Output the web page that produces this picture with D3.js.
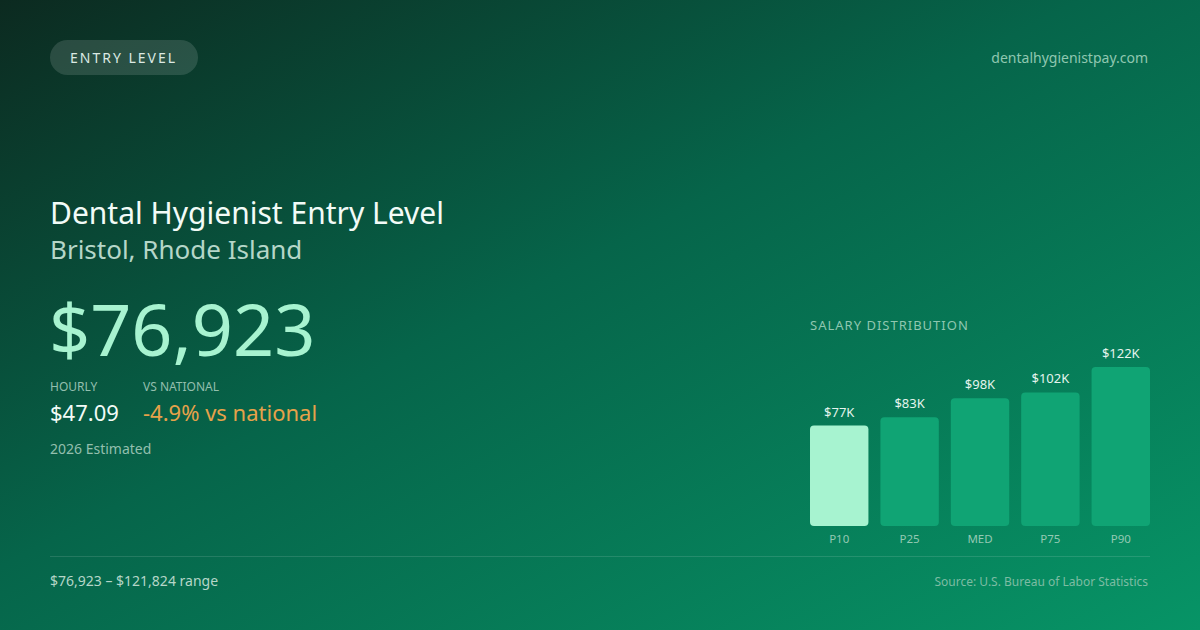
<!DOCTYPE html>
<html>
<head>
<meta charset="utf-8">
<script src="https://cdn.jsdelivr.net/npm/d3@7"></script>
<style>
  html, body { margin: 0; padding: 0; background: #0b2a20; }
  svg { display: block; font-family: "Noto Sans", "Open Sans", sans-serif; }
</style>
</head>
<body>
<script>
// salary percentiles
const percentiles = ["P10", "P25", "MED", "P75", "P90"];
const salaries = [76923, 83400, 97900, 102300, 121824];
const salaryLabels = ["$77K", "$83K", "$98K", "$102K", "$122K"];

const W = 1200, H = 630;

const svg = d3.select("body").append("svg")
    .attr("width", W)
    .attr("height", H);

// background gradient, dark top-left to green bottom-right
const defs = svg.append("defs");
const bg = defs.append("linearGradient")
    .attr("id", "bg")
    .attr("x1", "0%").attr("y1", "0%")
    .attr("x2", "100%").attr("y2", "100%");
bg.append("stop").attr("offset", "0%").attr("stop-color", "#0c2a20");
bg.append("stop").attr("offset", "45%").attr("stop-color", "#06654a");
bg.append("stop").attr("offset", "100%").attr("stop-color", "#079466");

svg.append("rect")
    .attr("width", W)
    .attr("height", H)
    .attr("fill", "url(#bg)");

// top pill
svg.append("rect")
    .attr("x", 50).attr("y", 40)
    .attr("width", 148).attr("height", 35)
    .attr("rx", 17.5)
    .attr("fill", "rgba(255,255,255,0.13)");

svg.append("text")
    .attr("x", 70).attr("y", 62.5)
    .attr("fill", "#dbe9e3")
    .style("font-size", "14px")
    .style("letter-spacing", "2px")
    .text("ENTRY LEVEL");

svg.append("text")
    .attr("x", 1148).attr("y", 63)
    .attr("text-anchor", "end")
    .attr("fill", "#8fc7b0")
    .style("font-size", "14px")
    .text("dentalhygienistpay.com");

// headings
svg.append("text")
    .attr("x", 50).attr("y", 224)
    .attr("fill", "#f2fbf7")
    .style("font-size", "30px")
    .text("Dental Hygienist Entry Level");

svg.append("text")
    .attr("x", 50).attr("y", 259)
    .attr("fill", "#b5d6c8")
    .style("font-size", "26px")
    .text("Bristol, Rhode Island");

svg.append("text")
    .attr("x", 49).attr("y", 356)
    .attr("fill", "#a7f3d0")
    .style("font-size", "72px")
    .text("$76,923");

// small stats
svg.append("text")
    .attr("x", 50).attr("y", 391)
    .attr("fill", "#93bfae")
    .style("font-size", "12px")
    .text("HOURLY");

svg.append("text")
    .attr("x", 143).attr("y", 391)
    .attr("fill", "#93bfae")
    .style("font-size", "12px")
    .text("VS NATIONAL");

svg.append("text")
    .attr("x", 50).attr("y", 421)
    .attr("fill", "#f2fbf7")
    .style("font-size", "22px")
    .text("$47.09");

svg.append("text")
    .attr("x", 143).attr("y", 421)
    .attr("fill", "#e6a24a")
    .style("font-size", "22px")
    .text("-4.9% vs national");

svg.append("text")
    .attr("x", 50).attr("y", 454)
    .attr("fill", "#93bfae")
    .style("font-size", "14px")
    .text("2026 Estimated");

// salary distribution chart
svg.append("text")
    .attr("x", 810).attr("y", 330)
    .attr("fill", "#8fc7b0")
    .style("font-size", "13px")
    .style("letter-spacing", "1px")
    .text("SALARY DISTRIBUTION");

const x = d3.scaleBand()
    .domain(percentiles)
    .range([810, 1150])
    .paddingInner(0.17)
    .paddingOuter(0);

const y = d3.scaleLinear()
    .domain([0, d3.max(salaries)])
    .range([526, 367]);

const data = percentiles.map((p, i) => ({ p: p, v: salaries[i], label: salaryLabels[i] }));

svg.selectAll("rect.bar")
    .data(data)
    .enter()
    .append("rect")
    .attr("class", "bar")
    .attr("x", d => x(d.p))
    .attr("y", d => y(d.v))
    .attr("width", x.bandwidth())
    .attr("height", d => y(0) - y(d.v))
    .attr("rx", 4)
    .attr("fill", (d, i) => i === 0 ? "#a7f3d0" : "#10a474");

svg.selectAll("text.value")
    .data(data)
    .enter()
    .append("text")
    .attr("class", "value")
    .attr("x", d => x(d.p) + x.bandwidth() / 2)
    .attr("y", d => y(d.v) - 9)
    .attr("text-anchor", "middle")
    .attr("fill", "#e4f4ed")
    .style("font-size", "13px")
    .text(d => d.label);

svg.selectAll("text.cat")
    .data(data)
    .enter()
    .append("text")
    .attr("class", "cat")
    .attr("x", d => x(d.p) + x.bandwidth() / 2)
    .attr("y", 543)
    .attr("text-anchor", "middle")
    .attr("fill", "#93c9b3")
    .style("font-size", "11.5px")
    .text(d => d.p);

// footer
svg.append("line")
    .attr("x1", 50).attr("x2", 1150)
    .attr("y1", 556.5).attr("y2", 556.5)
    .attr("stroke", "rgba(255,255,255,0.12)")
    .attr("stroke-width", 1);

svg.append("text")
    .attr("x", 50).attr("y", 586)
    .attr("fill", "#b5d6c8")
    .style("font-size", "14px")
    .text("$76,923 – $121,824 range");

svg.append("text")
    .attr("x", 1148).attr("y", 586)
    .attr("text-anchor", "end")
    .attr("fill", "#7dbca3")
    .style("font-size", "12px")
    .text("Source: U.S. Bureau of Labor Statistics");
</script>
</body>
</html>
